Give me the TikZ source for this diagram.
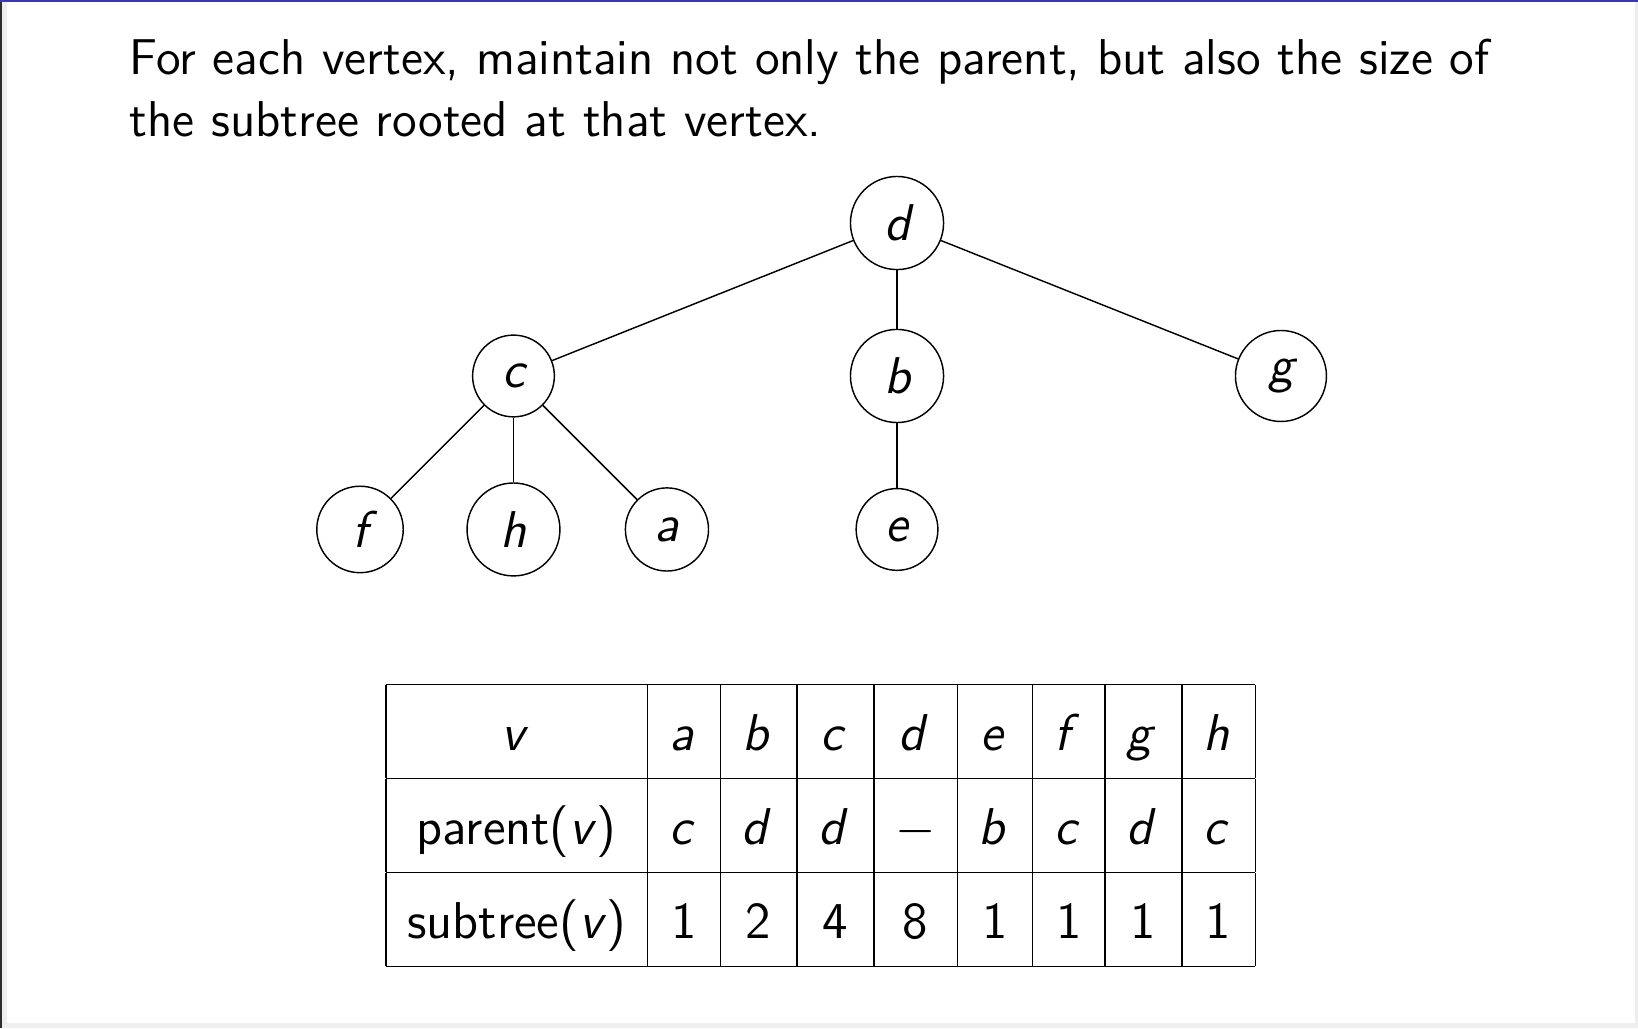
\documentclass[tikz,border=0pt]{standalone}
\usepackage{tikz}
\newcommand{\slidefont}{\fontsize{14.4}{17}\selectfont\sffamily}
\newcommand{\introfont}{\fontsize{14}{17.2}\selectfont\sffamily}
\newcommand{\vx}[1]{\textit{#1}\kern0.08em}
\definecolor{barblue}{RGB}{58,58,170}
\definecolor{framedark}{RGB}{45,45,45}
\definecolor{framegray}{RGB}{238,238,238}
\tikzset{vertex/.style={circle, draw, inner sep=4.8pt, font=\slidefont\itshape}}

\begin{document}
\begin{tikzpicture}
    \useasboundingbox (0,0) rectangle (16.02,-10.054);
    \fill[white] (0,0) rectangle (16.02,-10.054);
    \fill[framegray] (0.0196,-10.005) rectangle (16.02,-10.054);
    \fill[framegray] (15.99,0) rectangle (16.02,-10.054);
    \fill[framegray] (0.0196,0) rectangle (0.064,-10.054);
    \fill[framedark] (0,0) rectangle (0.0196,-10.054);
    \fill[barblue] (0,0) rectangle (16.02,-0.0196);

    \node[anchor=base west, inner sep=0pt, text width=15cm, align=left, font=\introfont] (intro) at (1.26,-0.733)
        {For each vertex, maintain not only the parent, but also the size of\\the subtree rooted at that vertex.};

    \node[vertex] (d) at (8.773,-2.181) {d};
    \node[vertex] (c) at (5.022,-3.677) {c};
    \node[vertex] (b) at (8.773,-3.677) {b};
    \node[vertex] (g) at (12.528,-3.677) {g};
    \node[vertex] (f) at (3.521,-5.178) {f};
    \node[vertex] (h) at (5.022,-5.178) {h};
    \node[vertex] (a) at (6.523,-5.178) {a};
    \node[vertex] (e) at (8.773,-5.178) {e};
    \draw (d) -- (c);
    \draw (d) -- (b);
    \draw (d) -- (g);
    \draw (c) -- (f);
    \draw (c) -- (h);
    \draw (c) -- (a);
    \draw (b) -- (e);

    \node[inner sep=0pt, font=\slidefont] (tab) at (8.026,-8.075) {%
        \renewcommand{\arraystretch}{1.515}%
        \begin{tabular}{|c|c|c|c|c|c|c|c|c|}
            \hline
            \vx{v} & \vx{a} & \vx{b} & \vx{c} & \vx{d} & \vx{e} & \vx{f} & \vx{g} & \vx{h} \\ \hline
            parent(\textit{v}) & \vx{c} & \vx{d} & \vx{d} & $-$ & \vx{b} & \vx{c} & \vx{d} & \vx{c} \\ \hline
            subtree(\textit{v}) & 1 & 2 & 4 & 8 & 1 & 1 & 1 & 1 \\ \hline
        \end{tabular}};
\end{tikzpicture}
\end{document}
